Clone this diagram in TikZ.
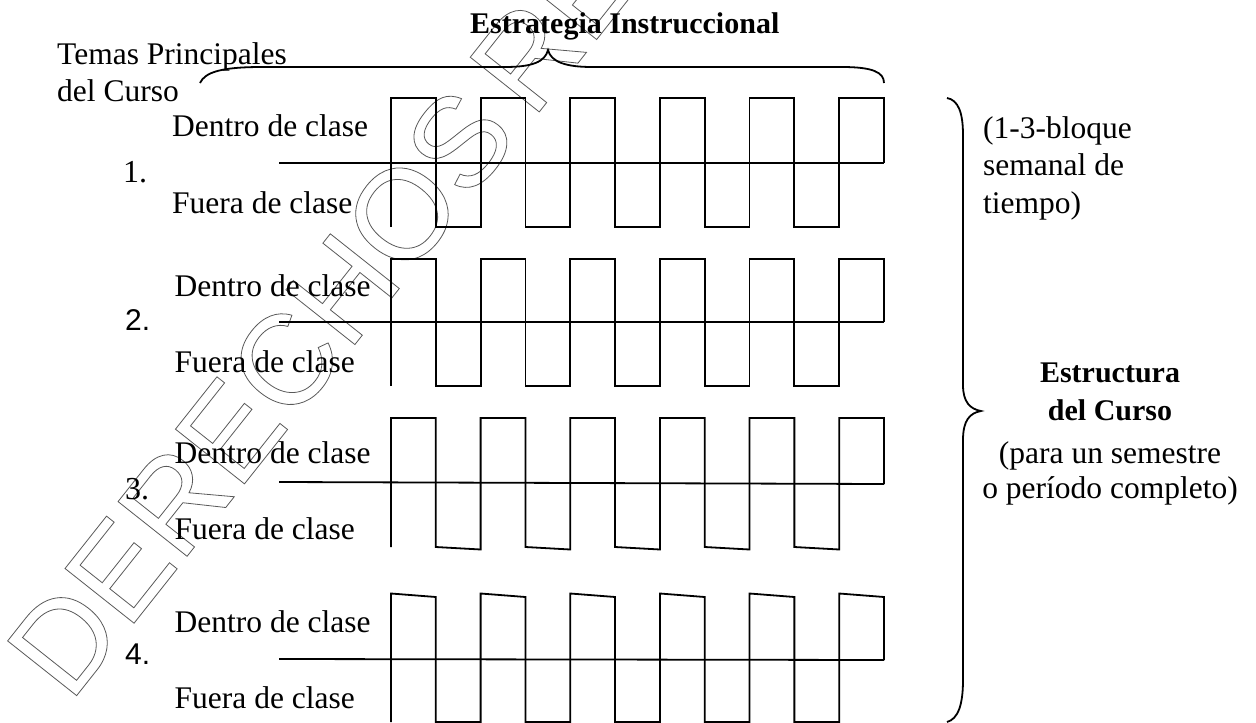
\documentclass[tikz,border=0pt]{standalone}
\usepackage{fontspec}
\setmainfont{Liberation Serif}
\newfontfamily\sansdig{Liberation Sans}
\newfontfamily\wmfamily{Liberation Sans}
\begin{document}
\begin{tikzpicture}[x=1pt,y=-1pt,
  lbl/.style={anchor=base west,inner sep=0pt,font=\fontsize{31.5}{36}\selectfont},
  num/.style={anchor=base west,inner sep=0pt,font=\fontsize{32}{36}\selectfont},
  numsans/.style={anchor=base west,inner sep=0pt,font=\fontsize{30}{36}\sansdig},
  ttl/.style={anchor=base,inner sep=0pt,font=\fontsize{30}{36}\selectfont\bfseries},
  ctr/.style={anchor=base,inner sep=0pt,font=\fontsize{31.5}{36}\selectfont},
  wave/.style={line width=1.8pt,line join=miter},
  brace/.style={line width=1.8pt},
  wm/.style={anchor=base west,inner sep=0pt,rotate=51.6,text=black!65,
    font=\fontsize{128}{130}\wmfamily}]
\useasboundingbox (0,0) rectangle (1256,723);

% watermark
\begin{scope}
\clip (0,0) rectangle (1256,723);
\node[wm] (wmark) at (70,704) {\special{pdf:literal direct 1 Tr 0.8 w}DERECHOS\kern-16pt\ RESERVADOS\special{pdf:literal direct 0 Tr}};
\end{scope}

% titles
\node[lbl] (temas) at (57,64.5) {Temas Principales};
\node[lbl] (delcurso) at (57,101) {del Curso};
\node[ttl,anchor=base west] (estrat) at (470,33) {Estrategia Instruccional};

% top brace
\draw[brace] (200,83) .. controls (205,72) and (222,67) .. (262,67) -- (505,67)
  .. controls (532,67) and (545,62) .. (548,50)
  .. controls (551,62) and (566,67) .. (592,67) -- (842,67)
  .. controls (872,67) and (884,72) .. (884,83);

% right brace
\draw[brace] (947,98) .. controls (958,100) and (963,112) .. (963,135) -- (963,385)
  .. controls (963,402) and (970,409) .. (981,411)
  .. controls (970,413) and (963,420) .. (963,440) -- (963,680)
  .. controls (963,705) and (958,719) .. (947,722);

% rows: top, mid-left, mid-right, bottom, top slant, bottom slant
\def\dx{44.818}
\foreach \T/\Ml/\Mr/\B/\ts/\bs [count=\r] in {98/163/163/227/0/0, 259/322/322/386/0/0, 418/482/484/547/0/2.5, 593.5/659/660/722/3.5/0} {
  \draw[wave] (279,\Ml) -- (884,\Mr);
  \draw[wave] (391,\B)
    \foreach \k in {0,2,...,8} {
      -- ({391+\k*\dx},\T) -- ({391+(\k+1)*\dx},{\T+\ts}) -- ({391+(\k+1)*\dx},\B)
      -- ({391+(\k+2)*\dx},{\B+\bs}) }
    -- ({391+10*\dx},\T) -- ({391+11*\dx},{\T+\ts}) -- ({391+11*\dx},\Mr);
}

% row labels
\node[lbl] (d1) at (172,136.5) {Dentro de clase};
\node[num] (n1) at (123,182) {1.};
\node[lbl] (f1) at (172,213) {Fuera de clase};
\node[lbl] (d2) at (174.5,296) {Dentro de clase};
\node[numsans] (n2) at (125,330) {2.};
\node[lbl] (f2) at (174.5,372.5) {Fuera de clase};
\node[lbl] (d3) at (174.5,463) {Dentro de clase};
\node[num] (n3) at (125,499) {3.};
\node[lbl] (f3) at (174.5,539) {Fuera de clase};
\node[lbl] (d4) at (174.5,632) {Dentro de clase};
\node[numsans] (n4) at (125,664) {4.};
\node[lbl] (f4) at (174.5,708) {Fuera de clase};

% right texts
\node[lbl] (b1) at (983,138) {(1-3-bloque};
\node[lbl] (b2) at (983,175) {semanal de};
\node[lbl] (b3) at (983,213) {tiempo)};
\node[ttl] (e1) at (1110,382) {Estructura};
\node[ttl] (e2) at (1110,420) {del Curso};
\node[ctr] (e3) at (1110,463) {(para un semestre};
\node[ctr] (e4) at (1110,498) {o período completo)};
\end{tikzpicture}
\end{document}
